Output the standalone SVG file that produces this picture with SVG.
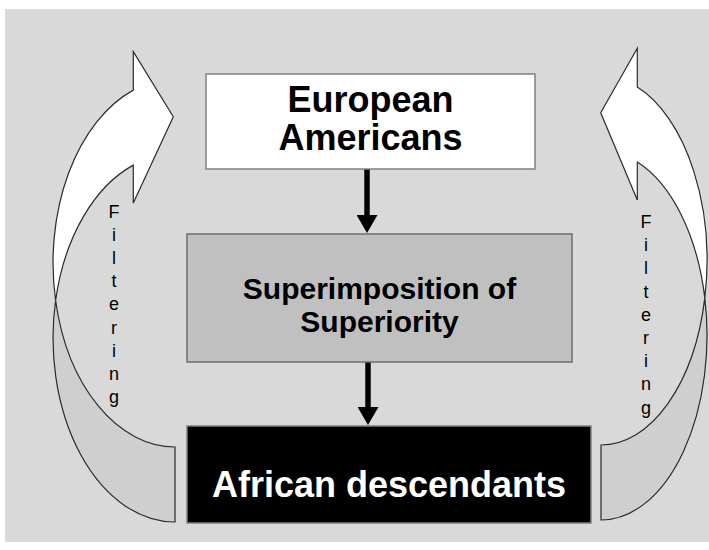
<svg xmlns="http://www.w3.org/2000/svg" width="709" height="550" viewBox="0 0 709 550">
  <style>
    .band { stroke: #2b2b2b; stroke-width: 1.2; stroke-linejoin: miter; }
    .front { fill: #ffffff; }
    .back { fill: #cfcfcf; }
    .title { font-family: "Liberation Sans", Arial, sans-serif; font-weight: bold; text-anchor: middle; }
    .filter { font-family: "Liberation Sans", Arial, sans-serif; font-size: 18px; fill: #000; text-anchor: middle; }
    .conn { stroke: #000; stroke-width: 5.5; fill: none; }
  </style>
  <defs>
    <marker id="head" viewBox="0 0 18 21" refX="0" refY="10.5" markerWidth="18" markerHeight="21" markerUnits="userSpaceOnUse" orient="auto">
      <path d="M0,0 L18,10.5 L0,21 Z" fill="#000"/>
    </marker>
  </defs>
  <rect x="0" y="0" width="709" height="550" fill="#ffffff"/>
  <rect x="5" y="9" width="704" height="533" fill="#d9d9d9"/>

  <g id="left-filtering-arrow">
    <path class="band back" d="M 175,522 A 122 184 0 0 1 55.6,300.5 A 122 184 0 0 0 175,447 Z"/>
    <path class="band front" d="M 55.6,300.5 A 122 184 0 0 1 133.3,90.1 L 133.3,51.7 L 173.3,116.7 L 133.3,203 L 133.3,165.1 A 122 184 0 0 0 55.6,300.5 Z"/>
    <text class="filter"><tspan x="114" y="217.5">F</tspan><tspan x="114" y="240.7">i</tspan><tspan x="114" y="263.9">l</tspan><tspan x="114" y="287.1">t</tspan><tspan x="114" y="310.3">e</tspan><tspan x="114" y="333.5">r</tspan><tspan x="114" y="356.7">i</tspan><tspan x="114" y="379.9">n</tspan><tspan x="114" y="403.1">g</tspan></text>
  </g>

  <g id="right-filtering-arrow">
    <path class="band back" d="M 601,520 A 106 184.6 0 0 0 704.8,297.9 A 106 184.6 0 0 1 601,445 Z"/>
    <path class="band front" d="M 704.8,297.9 A 106 184.6 0 0 0 637.3,87.0 L 637.3,48.3 L 600.7,112.7 L 637.3,200 L 637.3,162.0 A 106 184.6 0 0 1 704.8,297.9 Z"/>
    <text class="filter"><tspan x="646" y="228">F</tspan><tspan x="646" y="251.2">i</tspan><tspan x="646" y="274.4">l</tspan><tspan x="646" y="297.6">t</tspan><tspan x="646" y="320.8">e</tspan><tspan x="646" y="344">r</tspan><tspan x="646" y="367.2">i</tspan><tspan x="646" y="390.4">n</tspan><tspan x="646" y="413.6">g</tspan></text>
  </g>

  <g id="connectors">
    <line class="conn" x1="367" y1="169" x2="367" y2="215" marker-end="url(#head)"/>
    <line class="conn" x1="368" y1="362" x2="368" y2="407" marker-end="url(#head)"/>
  </g>

  <g id="european-americans">
    <rect x="206" y="74" width="329" height="95" fill="#ffffff" stroke="#808080" stroke-width="1.5"/>
    <text class="title" font-size="36" fill="#000"><tspan x="370.5" y="112">European</tspan><tspan x="370.5" y="150">Americans</tspan></text>
  </g>

  <g id="superimposition">
    <rect x="187" y="234" width="385" height="128" fill="#c0c0c0" stroke="#6e6e6e" stroke-width="1.5"/>
    <text class="title" font-size="30" fill="#000"><tspan x="379.5" y="299">Superimposition of</tspan><tspan x="379.5" y="332">Superiority</tspan></text>
  </g>

  <g id="african-descendants">
    <rect x="187" y="426" width="404" height="97" fill="#000000" stroke="#808080" stroke-width="1.5"/>
    <text class="title" font-size="36" fill="#ffffff" x="389" y="497">African descendants</text>
  </g>
</svg>
